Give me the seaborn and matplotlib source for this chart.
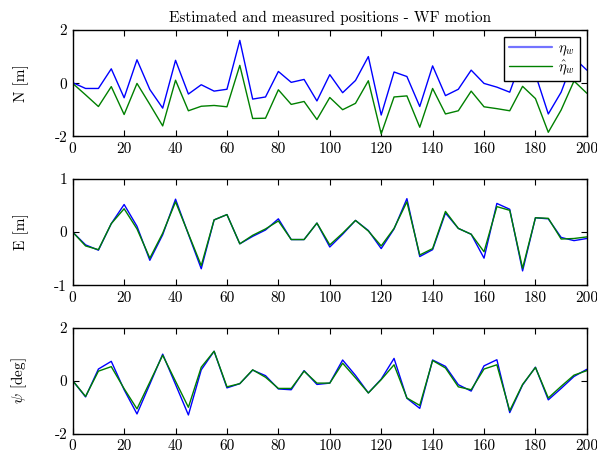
import matplotlib
matplotlib.use("Agg")
import matplotlib.pyplot as plt
import seaborn as sns
import pandas as pd

t = [0, 5, 10, 15, 20, 25, 30, 35, 40, 45, 50, 55, 60, 65, 70, 75, 80, 85, 90, 95,
     100, 105, 110, 115, 120, 125, 130, 135, 140, 145, 150, 155, 160, 165, 170, 175,
     180, 185, 190, 195, 200]

n_meas = [0.02, -0.2, -0.2, 0.54, -0.55, 0.88, -0.24, -0.94, 0.86, -0.41, -0.06, -0.3,
          -0.23, 1.61, -0.6, -0.52, 0.44, 0.03, 0.14, -0.67, 0.32, -0.36, 0.1, 1.0, -1.2,
          0.42, 0.25, -0.88, 0.65, -0.47, -0.23, 0.49, -0.01, -0.15, -0.34, 1.0, 0.33,
          -1.16, -0.34, 0.95, 0.49]
n_est = [-0.01, -0.44, -0.88, -0.13, -1.18, -0.01, -0.8, -1.61, 0.11, -1.04, -0.87, -0.84,
         -0.89, 0.67, -1.33, -1.32, -0.25, -0.8, -0.69, -1.37, -0.54, -1.0, -0.76, 0.09,
         -1.91, -0.52, -0.48, -1.66, -0.2, -1.16, -1.04, -0.3, -0.89, -0.96, -1.04, -0.12,
         -0.58, -1.85, -1.01, 0.08, -0.38]

e_meas = [0.0, -0.24, -0.34, 0.16, 0.52, 0.11, -0.53, -0.05, 0.62, -0.04, -0.69, 0.23,
          0.33, -0.22, -0.08, 0.04, 0.25, -0.14, -0.14, 0.17, -0.28, -0.04, 0.22, 0.03,
          -0.31, 0.06, 0.63, -0.46, -0.33, 0.36, 0.07, -0.04, -0.49, 0.54, 0.43, -0.73,
          0.27, 0.25, -0.1, -0.16, -0.12]
e_est = [0.0, -0.26, -0.33, 0.16, 0.44, 0.06, -0.49, -0.02, 0.57, -0.03, -0.63, 0.23,
         0.33, -0.22, -0.06, 0.06, 0.21, -0.14, -0.14, 0.17, -0.24, -0.02, 0.22, 0.02,
         -0.26, 0.07, 0.57, -0.43, -0.31, 0.39, 0.07, -0.04, -0.37, 0.48, 0.41, -0.68,
         0.27, 0.26, -0.13, -0.12, -0.09]

psi_meas = [0.0, -0.61, 0.44, 0.73, -0.34, -1.25, -0.13, 1.0, -0.14, -1.29, 0.41, 1.11,
            -0.27, -0.11, 0.4, 0.19, -0.31, -0.34, 0.38, -0.14, -0.09, 0.78, 0.2, -0.46,
            0.06, 0.84, -0.66, -1.04, 0.78, 0.54, -0.15, -0.39, 0.56, 0.79, -1.2, -0.16,
            0.51, -0.72, -0.29, 0.16, 0.43]
psi_est = [0.0, -0.59, 0.36, 0.53, -0.3, -1.06, -0.05, 0.96, -0.02, -1.0, 0.51, 1.11,
           -0.23, -0.11, 0.41, 0.13, -0.29, -0.29, 0.36, -0.09, -0.09, 0.66, 0.11, -0.46,
           0.04, 0.6, -0.65, -0.93, 0.76, 0.48, -0.23, -0.34, 0.44, 0.6, -1.13, -0.14,
           0.5, -0.65, -0.21, 0.21, 0.38]

title = "Estimated and measured positions - WF motion"
ylabels = ["N [m]", "E [m]", r"$\psi$ [deg]"]
ylims = [(-2, 2), (-1, 1), (-2, 2)]
yticks = [[-2, 0, 2], [-1, 0, 1], [-2, 0, 2]]
xticks = [0, 20, 40, 60, 80, 100, 120, 140, 160, 180, 200]
legend_labels = [r"$\eta_w$", r"$\hat{\eta}_w$"]

sns.set_style("ticks")
plt.rcParams.update({
    "font.family": ["cmr10", "DejaVu Serif"],
    "mathtext.fontset": "cm",
    "axes.unicode_minus": False,
    "axes.formatter.use_mathtext": False,
    "font.size": 11,
    "xtick.direction": "in",
    "ytick.direction": "in",
    "xtick.top": True,
    "ytick.right": True,
    "xtick.major.size": 4,
    "ytick.major.size": 4,
    "axes.linewidth": 1.0,
    "axes.edgecolor": "black",
    "xtick.color": "black",
    "ytick.color": "black",
    "axes.labelcolor": "black",
    "text.color": "black",
})

fig = plt.figure(figsize=(5.97, 4.55), dpi=100)
tops = [0.934, 0.6066, 0.280]
h = 0.2335
left, right = 0.1218, 0.983
width = right - left

series = [(n_meas, n_est), (e_meas, e_est), (psi_meas, psi_est)]
axes = []
for i, (meas, est) in enumerate(series):
    ax = fig.add_axes([left, tops[i] - h, width, h])
    df = pd.DataFrame({"t": t + t,
                       "v": list(meas) + list(est),
                       "s": [legend_labels[0]] * len(t) + [legend_labels[1]] * len(t)})
    sns.lineplot(data=df, x="t", y="v", hue="s",
                 palette={legend_labels[0]: "#0000ff", legend_labels[1]: "#008000"},
                 linewidth=1.0, ax=ax, legend=(i == 0), estimator=None, sort=False)
    ax.set_xlim(0, 200)
    ax.set_ylim(*ylims[i])
    ax.set_xticks(xticks)
    ax.set_yticks(yticks[i])
    ax.set_xlabel("")
    ax.set_ylabel(ylabels[i])
    ax.tick_params(axis="both", which="both", direction="in", top=True, right=True,
                   labelsize=11, pad=4)
    for sp in ax.spines.values():
        sp.set_visible(True)
        sp.set_color("black")
    ax.yaxis.set_label_coords(-0.085, 0.5)
    axes.append(ax)

axes[0].set_title(title, fontsize=11, pad=6)
leg = axes[0].legend(loc="upper right", fancybox=False, framealpha=1.0,
                     edgecolor="black", fontsize=10.5, borderpad=0.3,
                     handlelength=3.0, handletextpad=0.4, labelspacing=0.0,
                     borderaxespad=0.5)
leg.get_frame().set_linewidth(1.0)
lines = leg.get_lines()
lines[0].set_linewidth(1.6)
lines[0].set_alpha(0.55)
lines[1].set_linewidth(1.0)

fig.savefig("out.png", dpi=100, facecolor="white")
